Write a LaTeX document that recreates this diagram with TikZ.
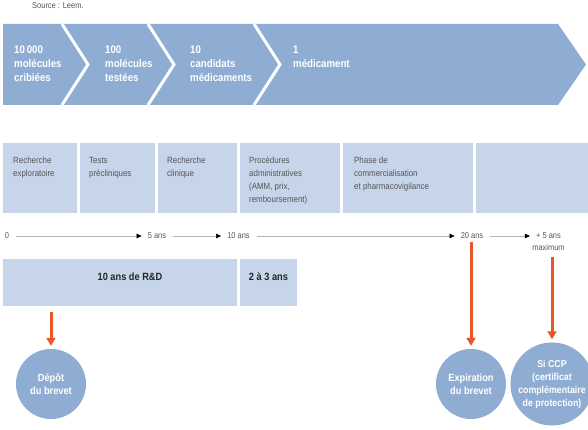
\documentclass[tikz,border=0pt]{standalone}
\usepackage{fontspec}
\setmainfont{Liberation Sans}[FakeStretch=0.88]
\usepackage{tikz}
\usetikzlibrary{arrows.meta, positioning}
\definecolor{chevblue}{HTML}{8FADD3}
\definecolor{paleblue}{HTML}{C6D5EA}
\definecolor{patorange}{HTML}{E8562A}
\definecolor{textgray}{HTML}{555555}

\begin{document}
\begin{tikzpicture}[x=1pt, y=-1pt,
  chev/.style={anchor=north west, inner sep=0pt, align=left, text=white,
               font=\fontsize{11}{14}\selectfont\bfseries},
  phase/.style={rectangle, fill=paleblue, minimum height=70pt, inner sep=0pt,
                outer sep=0pt, anchor=north west},
  phasetext/.style={anchor=north west, inner sep=0pt, align=left, text=textgray,
                    font=\fontsize{9}{13}\selectfont},
  tick/.style={inner sep=2pt, text=textgray, font=\fontsize{8.5}{10}\selectfont},
  tline/.style={-{Triangle[length=5pt, width=4.5pt, color=black]}, gray!60,
                line width=0.6pt, shorten <=5pt, shorten >=4pt},
  bar/.style={rectangle, fill=paleblue, minimum height=47pt, inner sep=0pt,
              outer sep=0pt, anchor=north west},
  bartext/.style={inner sep=0pt, text=black!85, font=\fontsize{10.5}{13}\selectfont\bfseries},
  event/.style={circle, fill=chevblue, minimum size=70pt, inner sep=0pt, align=center,
                text=white, font=\fontsize{10.5}{13}\selectfont\bfseries},
  orarr/.style={-{Triangle[length=8pt, width=9pt]}, patorange, line width=3pt}
]
  \useasboundingbox (0,0) rectangle (588,430);

  \node[anchor=west, inner sep=0pt, text=textgray, font=\fontsize{8.5}{10}\selectfont]
    (src) at (32,6) {Source : Leem.};

  % funnel of molecules
  \fill[chevblue] (3,24) -- (558,24) -- (586,64.5) -- (558,105) -- (3,105) -- cycle;
  \foreach \x in {62,148,254}
    \draw[white, line width=3pt] (\x,24) -- (\x+26,64.5) -- (\x,105);

  \node[chev] (n10000) at (14,46)  {10\,000\\molécules\\cribiées};
  \node[chev] (n100)   at (105,46) {100\\molécules\\testées};
  \node[chev] (n10)    at (190,46) {10\\candidats\\médicaments};
  \node[chev] (n1)     at (293,46) {1\\médicament};

  % phases
  \node[phase, minimum width=74pt]  (p1) at (3,143) {};
  \node[phase, minimum width=75pt,  right=3pt of p1] (p2) {};
  \node[phase, minimum width=79pt,  right=3pt of p2] (p3) {};
  \node[phase, minimum width=100pt, right=3pt of p3] (p4) {};
  \node[phase, minimum width=130pt, right=3pt of p4] (p5) {};
  \node[phase, minimum width=112pt, right=3pt of p5] (p6) {};

  \node[phasetext, below right=14pt and 10pt of p1.north west] (p1txt) {Recherche\\exploratoire};
  \node[phasetext, below right=14pt and 9pt of p2.north west]  (p2txt) {Tests\\précliniques};
  \node[phasetext, below right=14pt and 9pt of p3.north west]  (p3txt) {Recherche\\clinique};
  \node[phasetext, below right=14pt and 9pt of p4.north west]  (p4txt) {Procédures\\administratives\\(AMM, prix,\\remboursement)};
  \node[phasetext, below right=14pt and 11pt of p5.north west] (p5txt) {Phase de\\commercialisation\\et pharmacovigilance};

  % time line
  \node[tick] (t0)  at (7,236)     {0};
  \node[tick] (t5)  at (157,236)   {5 ans};
  \node[tick] (t10) at (238.5,236) {10 ans};
  \node[tick] (t20) at (472,236)   {20 ans};
  \node[tick] (t25) at (548.5,236) {+ 5 ans};
  \node[tick, below=1pt of t25] (tmax) {maximum};

  \draw[tline] (t0)  -- (t5);
  \draw[tline] (t5)  -- (t10);
  \draw[tline] (t10) -- (t20);
  \draw[tline] (t20) -- (t25);

  % durations
  \node[bar, minimum width=234pt] (rd) at (3,259) {};
  \node[bar, minimum width=57pt, right=3pt of rd] (amm) {};
  \node[bartext, below=14pt of rd.north, xshift=10pt] (rdtxt) {10 ans de R\&D};
  \node[bartext, below=14pt of amm.north] (ammtxt) {2 à 3 ans};

  % patent events
  \node[event] (depot) at (51,384)  {Dépôt\\du brevet};
  \node[event] (expir) at (471,384) {Expiration\\du brevet};
  \node[event, font=\fontsize{10}{13}\selectfont\bfseries] (ccp) at (552,384)
    {Si CCP\\(certificat\\complémentaire\\de protection)};

  \draw[orarr, shorten <=6pt, shorten >=3pt] (depot |- rd.south) -- (depot);
  \draw[orarr, shorten <=1pt, shorten >=3pt] (expir |- t20.south) -- (expir);
  \draw[orarr, shorten <=4pt, shorten >=3pt] (ccp |- tmax.south) -- (ccp);
\end{tikzpicture}
\end{document}
